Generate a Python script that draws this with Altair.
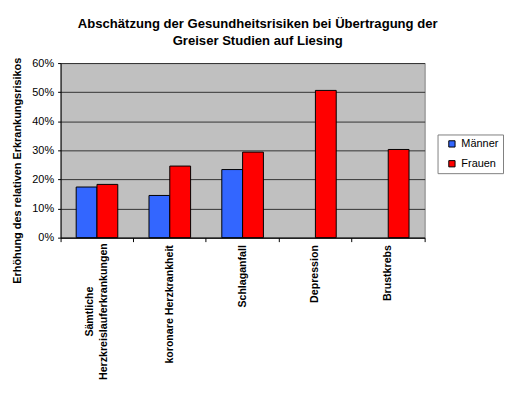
import altair as alt
import pandas as pd

categories = ["Sämtliche\nHerzkreislauferkrankungen", "koronare Herzkrankheit",
              "Schlaganfall", "Depression", "Brustkrebs"]
groups = ["Männer", "Frauen"]
maenner = [17.4, 14.5, 23.4, None, None]
frauen = [18.3, 24.6, 29.4, 50.6, 30.3]
colors = ["#3366FF", "#FF0000"]
y_ticks = [0, 0.1, 0.2, 0.3, 0.4, 0.5, 0.6]

rows = []
for c, m, f in zip(categories, maenner, frauen):
    if m is not None:
        rows.append({"cat": c, "g": "Männer", "v": m / 100})
    if f is not None:
        rows.append({"cat": c, "g": "Frauen", "v": f / 100})
df = pd.DataFrame(rows)

FONT = "Arial, Liberation Sans, sans-serif"
W, H = 367, 176
MULTI = "isString(datum.value) && indexof(datum.value, '\\n') >= 0"

chart = alt.Chart(df).mark_bar(stroke="black", strokeWidth=1).encode(
    x=alt.X("cat:N", sort=categories,
            scale=alt.Scale(paddingInner=0, paddingOuter=0),
            axis=alt.Axis(title=None, labelAngle=270,
                          labelAlign={"condition": {"test": MULTI, "value": "center"},
                                      "value": "right"},
                          labelPadding={"condition": {"test": MULTI, "value": 70},
                                        "value": 3},
                          labelBaseline="middle", labelFont=FONT, labelFontSize=10.7,
                          labelFontWeight="bold", labelColor="black",
                          labelExpr="split(datum.label, '\\n')", labelLineHeight=14,
                          labelOffset={"condition": {"test": MULTI, "value": -7},
                                       "value": 0},
                          bandPosition=1, tickExtra=True,
                          tickSize=4, tickColor="black",
                          domainColor="black", grid=False)),
    xOffset=alt.XOffset("g:N", sort=groups,
                        scale=alt.Scale(domain=groups, paddingInner=0, paddingOuter=0.75)),
    y=alt.Y("v:Q", scale=alt.Scale(domain=[0, 0.6]),
            axis=alt.Axis(format=".0%", values=y_ticks,
                          title="Erhöhung des relativen Erkrankungsrisikos",
                          titleFont=FONT, titleFontSize=11, titleFontWeight="bold",
                          titleColor="black", titleY=108, titlePadding=9,
                          labelFont=FONT, labelFontSize=11, labelColor="black",
                          tickSize=3, labelPadding=4, tickColor="black",
                          domainColor="black", gridColor="#333333")),
    color=alt.Color("g:N", sort=groups,
                    scale=alt.Scale(domain=groups, range=colors),
                    legend=alt.Legend(title=None, orient="none", legendX=380, legendY=72,
                                      fillColor="white", strokeColor="#808080",
                                      padding=4, symbolType="square", symbolSize=40,
                                      symbolStrokeColor="black", symbolStrokeWidth=1,
                                      symbolOffset=5, labelFont=FONT, labelFontSize=11,
                                      labelColor="black", rowPadding=8, labelOffset=4)),
).properties(
    width=W, height=H,
    title=alt.Title(["Abschätzung der Gesundheitsrisiken bei Übertragung der",
                     "Greiser Studien auf Liesing"],
                    font=FONT, fontSize=13.2, fontWeight="bold", lineHeight=17,
                    color="black", anchor="middle", frame="bounds", offset=9),
).configure(
    padding={"left": 3, "top": 7, "right": 0, "bottom": 0},
    background="white",
).configure_view(fill="#C0C0C0", stroke="#808080")

chart.save("out.html", embed_options={"renderer": "svg", "actions": False})
